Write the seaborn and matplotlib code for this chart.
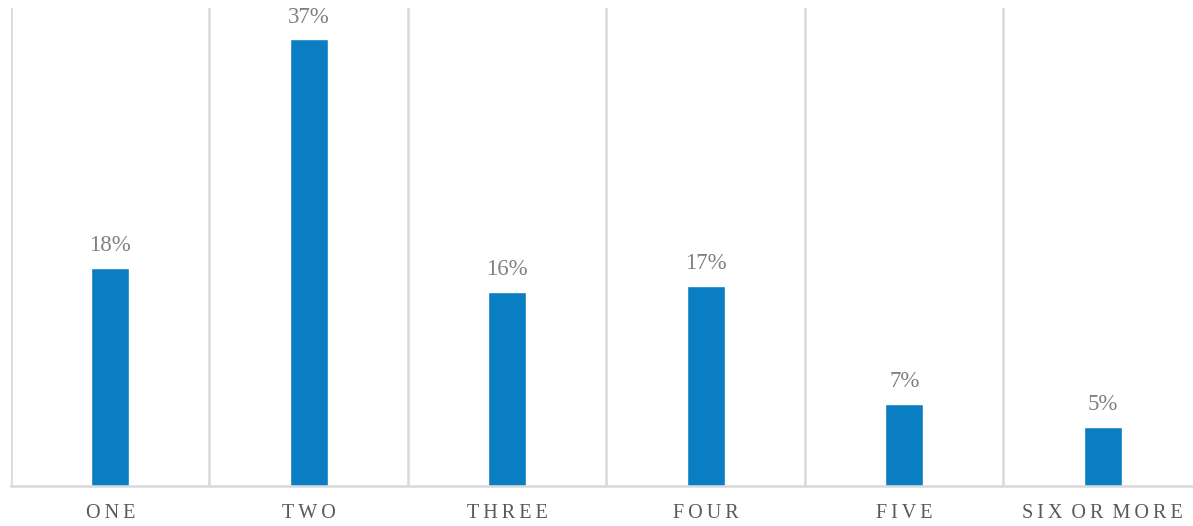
import matplotlib
matplotlib.use("Agg")
import matplotlib.pyplot as plt
import seaborn as sns
import pandas as pd

categories = ["ONE", "TWO", "THREE", "FOUR", "FIVE", "SIX OR MORE"]
values = [18.1, 37.0, 16.1, 16.6, 6.8, 4.9]
value_labels = ["18%", "37%", "16%", "17%", "7%", "5%"]

sns.set_theme(style="white")
plt.rcParams["font.family"] = ["Liberation Serif", "DejaVu Serif"]

df = pd.DataFrame({"cat": categories, "val": values})

fig = plt.figure(figsize=(11.93, 5.26), dpi=100)
ax = fig.add_axes([11 / 1193, 1 - 486 / 526, 1 - 11 / 1193, (486 - 8) / 526])

sns.barplot(data=df, x="cat", y="val", color="#0A7EC2", saturation=1, width=0.19, ax=ax)

ax.set_ylim(0, 39.6)
ax.set_xlim(-0.5, 5.455)

# vertical separators between categories
for b in [i - 0.5 for i in range(len(categories))]:
    ax.axvline(b, color="#D9D9D9", lw=1.8, zorder=0)

for i, (v, lab) in enumerate(zip(values, value_labels)):
    ax.annotate(lab, (i, v), xytext=(0, 8.5), textcoords="offset points",
                ha="center", va="bottom", fontsize=16.5, color="#808080")

def spaced(s):
    return "\u2009".join(list(s)).replace("\u2009 \u2009", " \u2009")

ax.set_xticks(range(len(categories)))
ax.set_xticklabels([spaced(c) for c in categories], fontsize=14.5, color="#595959")
ax.tick_params(axis="x", length=0, pad=13)
ax.set_yticks([])
ax.set_xlabel("")
ax.set_ylabel("")
for s in ["top", "right", "left"]:
    ax.spines[s].set_visible(False)
ax.spines["bottom"].set_color("#D9D9D9")
ax.spines["bottom"].set_linewidth(1.8)

fig.savefig("out.png", dpi=100)
